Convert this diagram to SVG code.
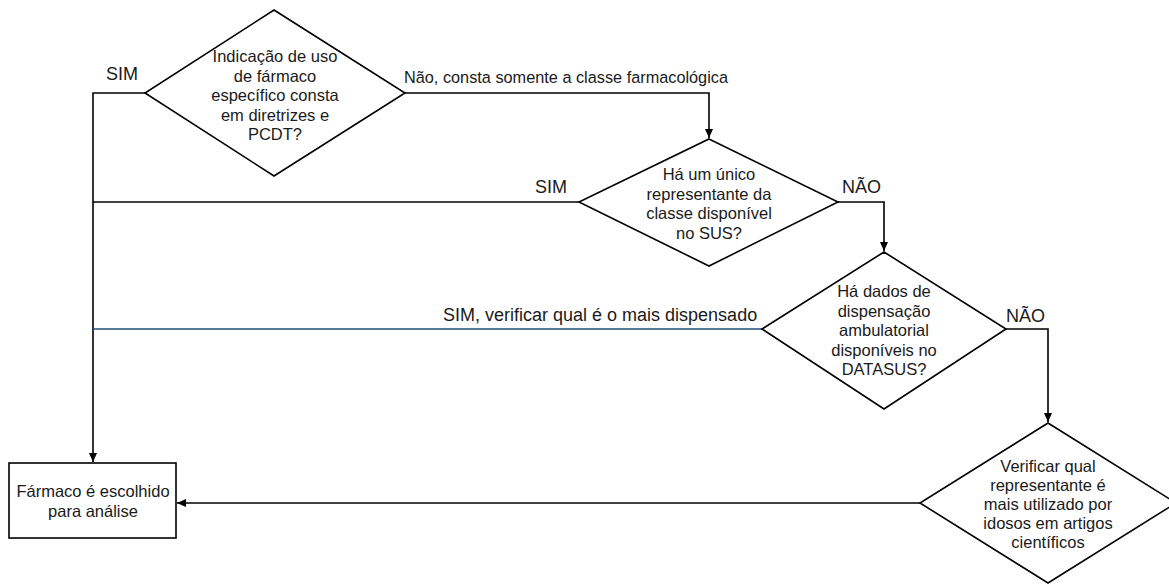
<svg xmlns="http://www.w3.org/2000/svg" width="1169" height="585" viewBox="0 0 1169 585">
<defs>
<marker id="arr" markerWidth="10" markerHeight="10" refX="9" refY="5" orient="auto" markerUnits="userSpaceOnUse">
<path d="M0,1 L9,5 L0,9 Z" fill="#000"/>
</marker>
<style>
.shape{fill:#fff;stroke:#000;stroke-width:1.6}
.conn{fill:none;stroke:#000;stroke-width:1.6}
.blue{stroke:#1F4E79}
text{font-family:"Liberation Sans",Arial,sans-serif;fill:#1a1a1a}
.t{font-size:16.5px;text-anchor:middle}
.lbl{font-size:18px}
.lbl16{font-size:16.3px}
</style>
</defs>
<rect width="1169" height="585" fill="#fff"/>
<g id="connectors">
<path class="conn" d="M145,93 H93 V462" marker-end="url(#arr)"/>
<path class="conn" d="M405,93 H709 V138" marker-end="url(#arr)"/>
<path class="conn" d="M579,202 H93"/>
<path class="conn" d="M838,202 H884 V251" marker-end="url(#arr)"/>
<path class="conn blue" d="M762,329 H93"/>
<path class="conn" d="M1006,329 H1048 V422" marker-end="url(#arr)"/>
<path class="conn" d="M920,503 H177" marker-end="url(#arr)"/>
<text class="lbl" x="106" y="80">SIM</text>
<text class="lbl16" x="404" y="83">Não, consta somente a classe farmacológica</text>
<text class="lbl" x="535" y="193">SIM</text>
<text class="lbl" x="842" y="193">NÃO</text>
<text class="lbl" x="443" y="321">SIM, verificar qual é o mais dispensado</text>
<text class="lbl" x="1006" y="322">NÃO</text>
</g>
<g id="d1">
<polygon class="shape" points="274,10 405,93 274,176 145,93"/>
<text class="t" x="275" y="62">Indicação de uso</text>
<text class="t" x="275" y="81.5">de fármaco</text>
<text class="t" x="275" y="101">específico consta</text>
<text class="t" x="275" y="120.5">em diretrizes e</text>
<text class="t" x="275" y="140">PCDT?</text>
</g>
<g id="d2">
<polygon class="shape" points="709,139 838,202 709,266 579,202"/>
<text class="t" x="709" y="180">Há um único</text>
<text class="t" x="709" y="199.5">representante da</text>
<text class="t" x="709" y="219">classe disponível</text>
<text class="t" x="709" y="238.5">no SUS?</text>
</g>
<g id="d3">
<polygon class="shape" points="884,252 1006,329 884,409 762,329"/>
<text class="t" x="884" y="297">Há dados de</text>
<text class="t" x="884" y="316.5">dispensação</text>
<text class="t" x="884" y="336">ambulatorial</text>
<text class="t" x="884" y="355.5">disponíveis no</text>
<text class="t" x="884" y="375">DATASUS?</text>
</g>
<g id="d4">
<polygon class="shape" points="1048,423 1176,503 1048,583 920,503"/>
<text class="t" x="1048" y="472">Verificar qual</text>
<text class="t" x="1048" y="491">representante é</text>
<text class="t" x="1048" y="510">mais utilizado por</text>
<text class="t" x="1048" y="529">idosos em artigos</text>
<text class="t" x="1048" y="548">científicos</text>
</g>
<g id="box">
<rect class="shape" x="9" y="463" width="167" height="75"/>
<text class="t" x="93" y="497">Fármaco é escolhido</text>
<text class="t" x="93" y="516.5">para análise</text>
</g>
</svg>
